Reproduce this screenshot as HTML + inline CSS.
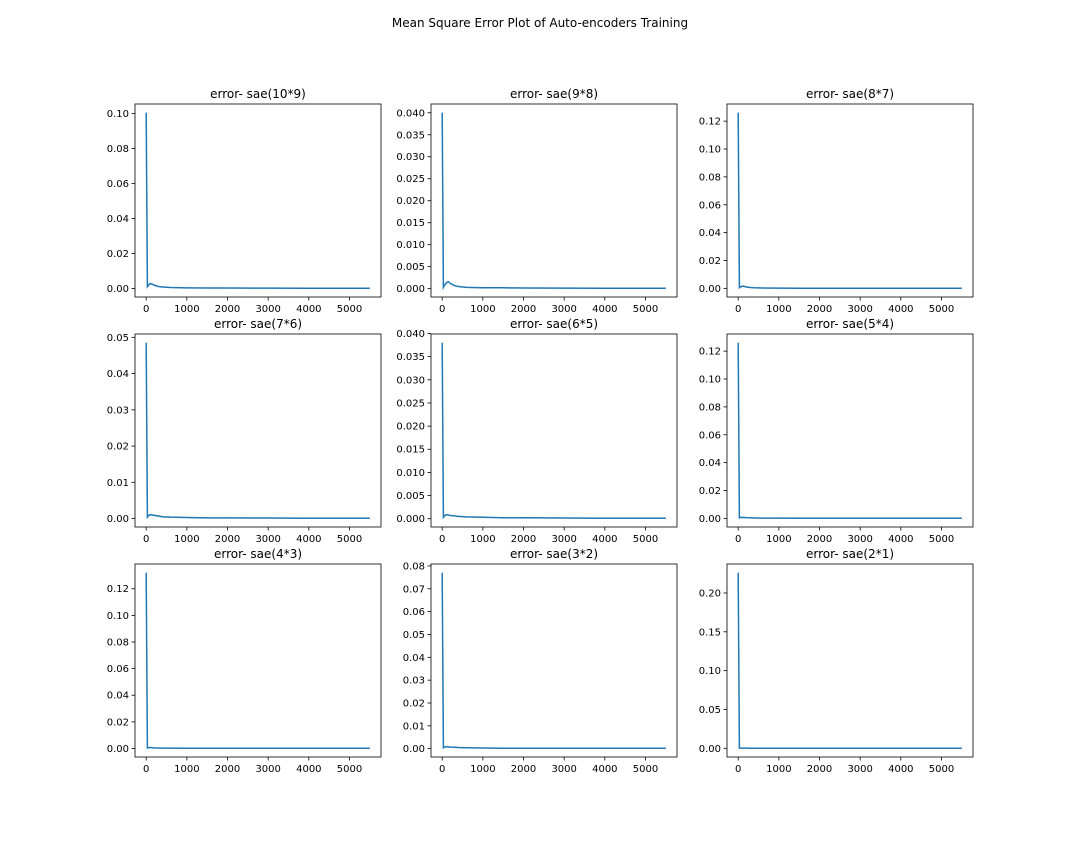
<!DOCTYPE html>
<html><head><meta charset="utf-8"><style>
body{margin:0;background:#fff}
svg{display:block;font-family:"DejaVu Sans","Liberation Sans",sans-serif}
</style></head><body>
<svg id="fig" width="1080" height="864" viewBox="0 0 1080 864" xmlns="http://www.w3.org/2000/svg">
<rect width="1080" height="864" fill="#fff"/>
<text x="540" y="27" text-anchor="middle" font-size="12">Mean Square Error Plot of Auto-encoders Training</text>
</svg>
<script>
const titles=["error- sae(10*9)","error- sae(9*8)","error- sae(8*7)","error- sae(7*6)","error- sae(6*5)","error- sae(5*4)","error- sae(4*3)","error- sae(3*2)","error- sae(2*1)"];
const xs=[0,30,60,100,150,200,300,400,600,1000,1500,2000,3000,4000,5000,5500];
const s1=[0.1005,0.001,0.002,0.0028,0.0024,0.0018,0.0011,0.0008,0.0005,0.0003,0.0002,0.0002,0.00015,0.0001,0.0001,0.0001];
const s2=[0.040,0.0003,0.0008,0.0013,0.0016,0.0012,0.0007,0.0005,0.0003,0.0002,0.0002,0.00015,0.00012,0.0001,0.0001,0.0001];
const s3=[0.126,0.0005,0.001,0.0016,0.0014,0.001,0.0006,0.0004,0.0003,0.0002,0.0001,0.0001,0.0001,0.0001,0.0001,0.0001];
const s4=[0.0485,0.0004,0.0008,0.0011,0.001,0.0009,0.0007,0.0005,0.0004,0.0003,0.0002,0.0002,0.00015,0.0001,0.0001,0.0001];
const s5=[0.038,0.0003,0.0006,0.0009,0.0008,0.0007,0.0006,0.0005,0.0004,0.0003,0.0002,0.0002,0.00015,0.0001,0.0001,0.0001];
const s6=[0.126,0.0004,0.0006,0.0007,0.0006,0.0005,0.0004,0.0003,0.0002,0.0002,0.0001,0.0001,0.0001,0.0001,0.0001,0.0001];
const s7=[0.132,0.0004,0.0006,0.0007,0.0006,0.0005,0.0004,0.0003,0.0003,0.0002,0.0002,0.0002,0.0002,0.0002,0.0002,0.0002];
const s8=[0.077,0.0004,0.0007,0.0009,0.0008,0.0007,0.0006,0.0005,0.0004,0.0003,0.0002,0.0002,0.0002,0.0002,0.0002,0.0002];
const s9=[0.226,0.0002,0.0002,0.0002,0.0002,0.0002,0.0001,0.0001,0.0001,0.0001,0.0001,0.0001,0.0001,0.0001,0.0001,0.0001];
const series=[s1,s2,s3,s4,s5,s6,s7,s8,s9];
const xticks=[0,1000,2000,3000,4000,5000];
const yt1=[0,0.02,0.04,0.06,0.08,0.10];
const yt2=[0,0.005,0.010,0.015,0.020,0.025,0.030,0.035,0.040];
const yt3=[0,0.02,0.04,0.06,0.08,0.10,0.12];
const yt4=[0,0.01,0.02,0.03,0.04,0.05];
const yt5=[0,0.005,0.010,0.015,0.020,0.025,0.030,0.035,0.040];
const yt6=[0,0.02,0.04,0.06,0.08,0.10,0.12];
const yt7=[0,0.02,0.04,0.06,0.08,0.10,0.12];
const yt8=[0,0.01,0.02,0.03,0.04,0.05,0.06,0.07,0.08];
const yt9=[0,0.05,0.10,0.15,0.20];
const yticks=[yt1,yt2,yt3,yt4,yt5,yt6,yt7,yt8,yt9];
const ydec=[2,3,2,2,3,2,2,2,2];

const NS="http://www.w3.org/2000/svg";
const fig=document.getElementById('fig');
function mk(tag,attrs,parent){const e=document.createElementNS(NS,tag);for(const k in attrs)e.setAttribute(k,attrs[k]);parent.appendChild(e);return e;}
const lefts=[135,431,727],tops=[104,334,564],W=246,H=193;
for(let i=0;i<9;i++){
  const L=lefts[i%3],T=tops[Math.floor(i/3)];
  const g=mk('g',{},fig);
  
  
  const d=series[i];
  const xmin=0,xmax=5500,xr=xmax-xmin,x0=xmin-0.05*xr,x1=xmax+0.05*xr;
  const ymax=Math.max(...d),ymin=Math.min(...d),yr=ymax-ymin,y0=ymin-0.05*yr,y1=ymax+0.05*yr;
  const X=v=>L+(v-x0)/(x1-x0)*W;
  const Y=v=>T+H-(v-y0)/(y1-y0)*H;
  const t=mk('text',{x:L+W/2,y:T-6,'text-anchor':'middle','font-size':'12'},g);
  t.textContent=titles[i];
  
  
  const line=mk('polyline',{points:xs.map((x,j)=>X(x).toFixed(2)+','+Y(d[j]).toFixed(2)).join(' '),fill:'none',stroke:'#1f77b4','stroke-width':'1.5'},g);
  
  
  const fr=mk('rect',{x:L,y:T,width:W,height:H,fill:'none',stroke:'#000','stroke-width':'0.8'},g);
  
  
  xticks.forEach(v=>{
    const px=X(v);
    mk('line',{x1:px,x2:px,y1:T+H,y2:T+H+3.5,stroke:'#000','stroke-width':'0.8'},g);
    const tx=mk('text',{x:px,y:T+H+15,'text-anchor':'middle','font-size':'10'},g);
    tx.textContent=v;
    
    
  });
  yticks[i].forEach(v=>{
    const py=Y(v);
    mk('line',{x1:L-3.5,x2:L,y1:py,y2:py,stroke:'#000','stroke-width':'0.8'},g);
    const ty=mk('text',{x:L-6,y:py+3.5,'text-anchor':'end','font-size':'10'},g);
    ty.textContent=v.toFixed(ydec[i]);
    
    
  });
}
</script>
</body></html>
